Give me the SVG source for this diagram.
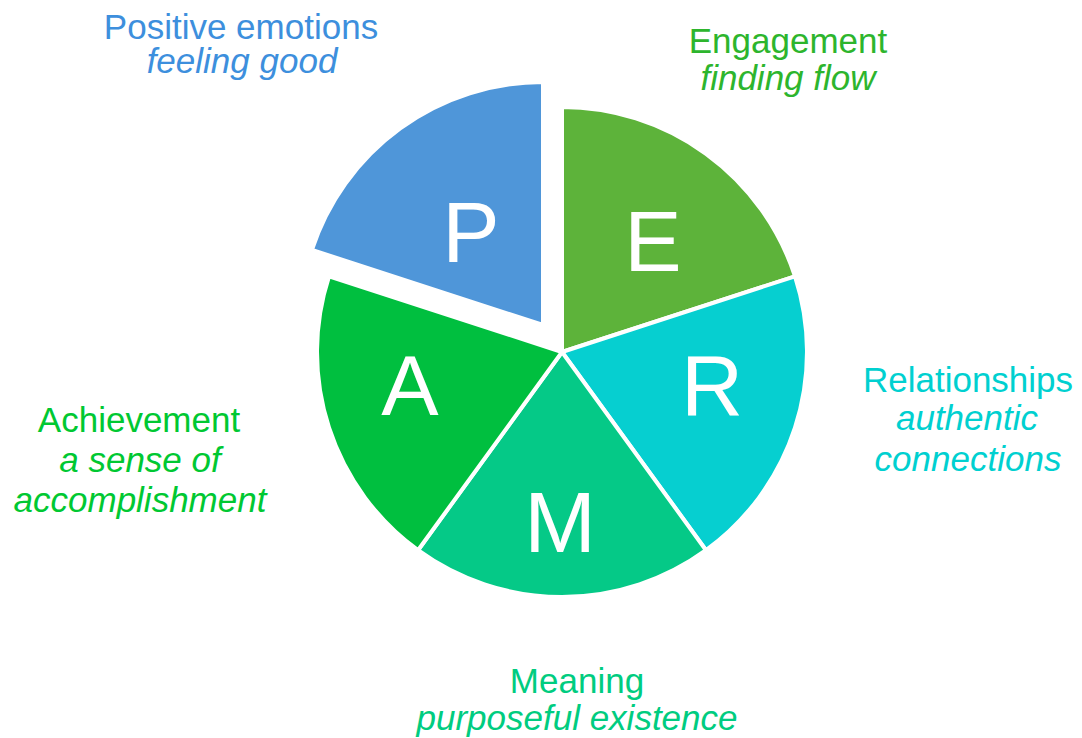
<svg xmlns="http://www.w3.org/2000/svg" width="1082" height="738" viewBox="0 0 1082 738">
  <style>
    .slice { stroke: #ffffff; stroke-width: 4; stroke-linejoin: round; }
    .letter { font-family: "Liberation Sans", Arial, sans-serif; font-size: 86px; fill: #ffffff; text-anchor: middle; }
    .title { font-family: "Liberation Sans", Arial, sans-serif; font-size: 35px; text-anchor: middle; }
    .sub { font-family: "Liberation Sans", Arial, sans-serif; font-size: 35px; font-style: italic; text-anchor: middle; }
  </style>
  <rect width="1082" height="738" fill="#ffffff"/>

  <!-- PERMA wheel: five 72-degree wedges, centre (562,352), P pulled out -->
  <g id="slice-P">
    <path class="slice" fill="#4F96D9" d="M543,325 L311.9,249.9 A243,243 0 0 1 543,82 Z"/>
    <text class="letter" x="471" y="262">P</text>
  </g>
  <g id="slice-E">
    <path class="slice" fill="#5DB33A" d="M562,352 L562,107 A245,245 0 0 1 795,276.3 Z"/>
    <text class="letter" x="653" y="271">E</text>
  </g>
  <g id="slice-R">
    <path class="slice" fill="#06CFD0" d="M562,352 L795,276.3 A245,245 0 0 1 706,550.2 Z"/>
    <text class="letter" x="712" y="415">R</text>
  </g>
  <g id="slice-M">
    <path class="slice" fill="#05C987" d="M562,352 L706,550.2 A245,245 0 0 1 418,550.2 Z"/>
    <text class="letter" x="560" y="552">M</text>
  </g>
  <g id="slice-A">
    <path class="slice" fill="#00BF3F" d="M562,352 L418,550.2 A245,245 0 0 1 329,276.3 Z"/>
    <text class="letter" x="410" y="415">A</text>
  </g>

  <!-- captions -->
  <g id="label-P" fill="#3D8FDD">
    <text class="title" x="241" y="39">Positive emotions</text>
    <text class="sub" x="242" y="73">feeling good</text>
  </g>
  <g id="label-E" fill="#2DB52D">
    <text class="title" x="788" y="53">Engagement</text>
    <text class="sub" x="788" y="90">finding flow</text>
  </g>
  <g id="label-R" fill="#00D0D0">
    <text class="title" x="968" y="392">Relationships</text>
    <text class="sub" x="967" y="430">authentic</text>
    <text class="sub" x="968" y="471">connections</text>
  </g>
  <g id="label-A" fill="#00C832">
    <text class="title" x="139" y="432">Achievement</text>
    <text class="sub" x="140" y="472">a sense of</text>
    <text class="sub" x="140" y="512">accomplishment</text>
  </g>
  <g id="label-M" fill="#00CC80">
    <text class="title" x="577" y="693">Meaning</text>
    <text class="sub" x="577" y="730">purposeful existence</text>
  </g>

  <g id="connectors"></g>
</svg>
